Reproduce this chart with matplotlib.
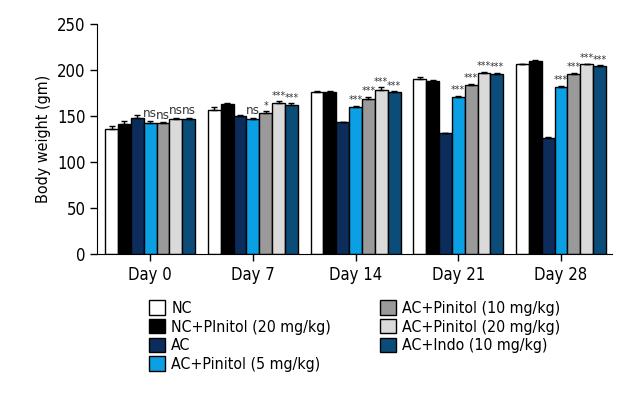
import numpy as np
import matplotlib
matplotlib.use('Agg')
import matplotlib.pyplot as plt

# condensed DejaVu is close to the narrow font of the original
plt.rcParams['font.family'] = ['DejaVu Sans']
plt.rcParams['font.stretch'] = 'condensed'

# data
days = ['Day 0', 'Day 7', 'Day 14', 'Day 21', 'Day 28']
groups = ['NC', 'NC+PInitol (20 mg/kg)', 'AC', 'AC+Pinitol (5 mg/kg)',
          'AC+Pinitol (10 mg/kg)', 'AC+Pinitol (20 mg/kg)', 'AC+Indo (10 mg/kg)']
colors = ['#ffffff', '#000000', '#0c2d5c', '#0ba0e3', '#9a9a9a', '#dadada', '#0b4c78']

nc = [136, 157, 176, 190, 206]
nc_p20 = [141, 163, 176, 188, 210]
ac = [148, 150, 143, 131, 126]
ac_p5 = [142, 147, 160, 171, 182]
ac_p10 = [142, 153, 169, 184, 196]
ac_p20 = [147, 164, 178, 197, 206]
ac_indo = [147, 162, 176, 196, 204]

err_nc = [3, 3, 1, 2, 1]
err_nc_p20 = [4, 1, 1, 1, 1]
err_ac = [3, 1, 1, 1, 1]
err_ac_p5 = [3, 1, 1, 1, 1]
err_ac_p10 = [1, 2, 2, 1, 1]
err_ac_p20 = [1, 2, 3, 1, 1]
err_ac_indo = [1, 2, 1, 1, 1]

# significance labels for the four treatment groups (bars 4-7)
sig_p5 = ['ns', 'ns', '***', '***', '***']
sig_p10 = ['ns', '*', '***', '***', '***']
sig_p20 = ['ns', '***', '***', '***', '***']
sig_indo = ['ns', '***', '***', '***', '***']

values = [nc, nc_p20, ac, ac_p5, ac_p10, ac_p20, ac_indo]
errs = [err_nc, err_nc_p20, err_ac, err_ac_p5, err_ac_p10, err_ac_p20, err_ac_indo]
sigs = {3: sig_p5, 4: sig_p10, 5: sig_p20, 6: sig_indo}

fig = plt.figure(figsize=(6.4, 4), dpi=100)
ax = fig.add_axes([0.152, 0.365, 0.804, 0.575])

x = np.arange(len(days))
w = 0.125
for i in range(len(groups)):
    pos = x + (i - 3) * w
    e = np.array(errs[i])
    ax.bar(pos, values[i], w, color=colors[i], edgecolor='black', linewidth=1,
           label=groups[i], yerr=[np.zeros_like(e), e], capsize=2.5,
           error_kw=dict(elinewidth=1, capthick=1, ecolor='black'))
    if i in sigs:
        for j in range(len(days)):
            s = sigs[i][j]
            ax.text(pos[j], values[i][j] + e[j] + 0.5, s, ha='center',
                    va='bottom', fontsize=9.5 if s == 'ns' else 7.5,
                    color='#333333')

ax.set_xlim(-0.515, 4.495)
ax.set_ylim(0, 250)
ax.set_yticks([0, 50, 100, 150, 200, 250])
ax.set_xticks(x)
ax.set_xticklabels(days)
ax.set_ylabel('Body weight (gm)', fontsize=11.5)
ax.tick_params(labelsize=12, length=5, width=1)
ax.spines['top'].set_visible(False)
ax.spines['right'].set_visible(False)

fig.legend(loc='upper left', bbox_to_anchor=(0.223, 0.265), ncol=2, frameon=False,
           fontsize=11.4, handlelength=1, handleheight=1, handletextpad=0.4,
           labelspacing=0.2, columnspacing=3.1, borderaxespad=0)

fig.savefig('out.png', dpi=100)
